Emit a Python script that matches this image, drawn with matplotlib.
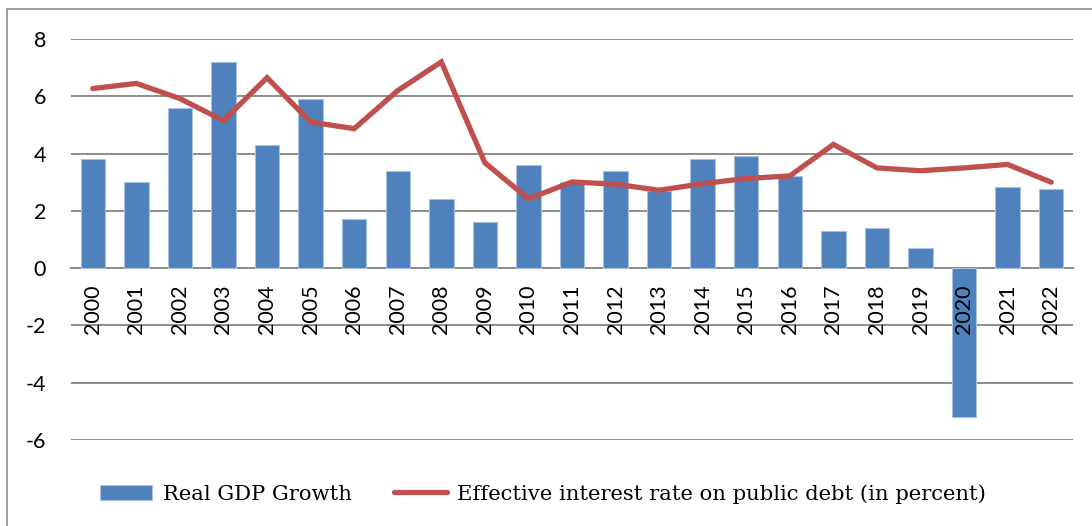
import matplotlib
matplotlib.use("Agg")
import matplotlib.pyplot as plt
from matplotlib.patches import Rectangle
import numpy as np

years = [str(y) for y in range(2000, 2023)]
gdp_growth = [3.8, 3.0, 5.6, 7.2, 4.3, 5.9, 1.7, 3.4, 2.4, 1.6, 3.6, 3.0,
              3.4, 2.7, 3.8, 3.9, 3.2, 1.3, 1.4, 0.7, -5.2, 2.85, 2.75]
interest_rate = [6.27, 6.45, 5.92, 5.15, 6.65, 5.1, 4.87, 6.2, 7.2, 3.68,
                 2.42, 3.01, 2.93, 2.72, 2.95, 3.13, 3.22, 4.32, 3.5, 3.4,
                 3.5, 3.62, 3.0]
y_ticks = [-6, -4, -2, 0, 2, 4, 6, 8]

W, H = 1092, 526
fig = plt.figure(figsize=(W / 100, H / 100), dpi=100)
ax = fig.add_axes([71 / W, 1 - 440 / H, (1073 - 71) / W, (440 - 39) / H])

x = np.arange(len(years))
bars = ax.bar(x, gdp_growth, width=0.56, color="#4F81BD",
              edgecolor="#A9C1E0", linewidth=0.8, zorder=3,
              label="Real GDP Growth")
line, = ax.plot(x, interest_rate, color="#C0504D", linewidth=3.8,
                solid_capstyle="round", solid_joinstyle="miter", zorder=4,
                label="Effective interest rate on public debt (in percent)")

ax.set_xlim(-0.5, len(years) - 0.5)
ax.set_ylim(-6, 8)
ax.set_yticks(y_ticks)
ax.set_yticklabels([str(v) for v in y_ticks])
ax.yaxis.grid(True, color="#8C8C8C", linewidth=1.4, zorder=0)
ax.set_axisbelow(True)

for side in ("left", "right", "top"):
    ax.spines[side].set_visible(False)
ax.spines["bottom"].set_position(("data", 0))
ax.spines["bottom"].set_color("#8C8C8C")
ax.spines["bottom"].set_linewidth(1.4)
ax.spines["bottom"].set_zorder(2)

ax.set_xticks(x)
ax.set_xticklabels(years, rotation=90, va="top", ha="center")
ax.tick_params(axis="x", length=0, pad=12, labelsize=15.5,
               labelfontfamily="Lato")
ax.tick_params(axis="y", length=0, pad=18, labelsize=15.5,
               labelfontfamily="Lato")
# year labels sit on top of the bars
ax.xaxis.set_zorder(5)

fig.legend(handles=[bars, line],
           labels=["Real GDP Growth",
                   "Effective interest rate on public debt (in percent)"],
           loc="center", bbox_to_anchor=(543 / W, 1 - 494 / H), ncol=2,
           frameon=False, prop={"family": "DejaVu Serif", "size": 15.2},
           handlelength=2.5, handleheight=0.75, handletextpad=0.5,
           columnspacing=2.0)

# outer chart frame
fig.patches.append(Rectangle((7 / W, -0.1), 1.2, 1 - 9 / H + 0.1,
                             transform=fig.transFigure, fill=False,
                             edgecolor="#8C8C8C", linewidth=1.2))

fig.savefig("out.png", dpi=100)
